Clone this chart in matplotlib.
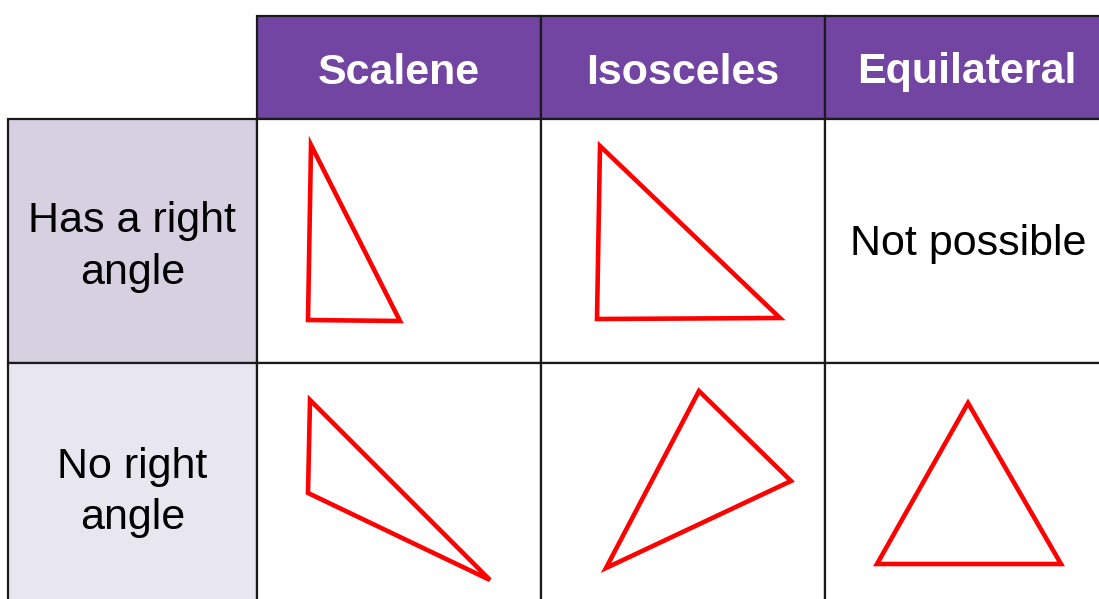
import matplotlib.pyplot as plt
from matplotlib.patches import Rectangle, Polygon

plt.rcParams['font.family'] = ['Liberation Sans', 'DejaVu Sans']

# table layout (pixel space of the picture)
col_edges = [257, 541, 825, 1109]
row_edges = [119, 363, 610]
header_top = 16
label_left = 8

headers = ['Scalene', 'Isosceles', 'Equilateral']
row_labels = ['Has a right\nangle', 'No right\nangle']
row_colors = ['#d6d0e1', '#e8e6ee']
header_color = '#7345a3'

# triangle vertices per cell (row, col)
tri_scalene_right = [(311, 145), (308, 320), (400, 321)]
tri_isosceles_right = [(600, 146), (597, 319), (780, 318)]
tri_scalene_none = [(310, 400), (308, 493), (490, 580)]
tri_isosceles_none = [(699, 391), (606, 568), (791, 481)]
tri_equilateral_none = [(968, 403), (877, 564), (1061, 564)]
triangles = [tri_scalene_right, tri_isosceles_right, tri_scalene_none,
             tri_isosceles_none, tri_equilateral_none]
not_possible_text = 'Not possible'

fig = plt.figure(figsize=(10.99, 5.99), dpi=100)
ax = fig.add_axes([0, 0, 1, 1])
ax.set_xlim(0, 1099)
ax.set_ylim(599, 0)
ax.axis('off')

lw = 1.6
fs = 31
# header cells
for i, h in enumerate(headers):
    x0, x1 = col_edges[i], col_edges[i + 1]
    ax.add_patch(Rectangle((x0, header_top), x1 - x0, row_edges[0] - header_top,
                           facecolor=header_color, edgecolor='#1a1a1a', lw=lw))
    ax.text((x0 + x1) / 2, (header_top + row_edges[0]) / 2 + 5, h, color='white',
            fontsize=fs, fontweight='bold', ha='center', va='center')

# row label cells and body cells
for r, lab in enumerate(row_labels):
    y0, y1 = row_edges[r], row_edges[r + 1]
    ax.add_patch(Rectangle((label_left, y0), col_edges[0] - label_left, y1 - y0,
                           facecolor=row_colors[r], edgecolor='#1a1a1a', lw=lw))
    ax.text((label_left + col_edges[0]) / 2, (y0 + y1) / 2 + 6, lab, color='black',
            fontsize=fs, ha='center', va='center', linespacing=1.37)
    for c in range(len(headers)):
        x0, x1 = col_edges[c], col_edges[c + 1]
        ax.add_patch(Rectangle((x0, y0), x1 - x0, y1 - y0,
                               facecolor='white', edgecolor='#1a1a1a', lw=lw))

ax.text(968, 244, not_possible_text, fontsize=fs, ha='center', va='center', color='black')

for tri in triangles:
    ax.add_patch(Polygon(tri, closed=True, fill=False, edgecolor='#ff0000',
                         lw=3.3, joinstyle='miter'))

fig.savefig('out.png', dpi=100)
